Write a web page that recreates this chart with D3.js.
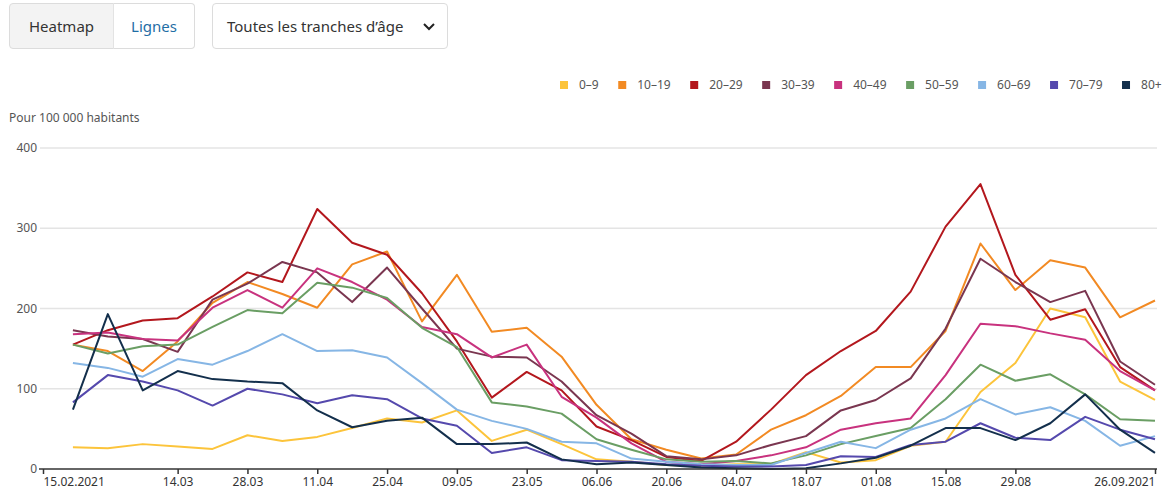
<!DOCTYPE html>
<html>
<head>
<meta charset="utf-8">
<script src="https://cdn.jsdelivr.net/npm/d3@7"></script>
<style>
  body { margin: 0; background: #fff; font-family: "Noto Sans", "Open Sans", sans-serif; }
  #wrap { position: relative; width: 1163px; height: 490px; overflow: hidden; }
  .seg { position: absolute; top: 3px; height: 46px; box-sizing: border-box; border: 1px solid #dcdcdc;
         font-size: 15px; line-height: 44px; text-align: center; }
  #chart { position: absolute; left: 0; top: 0; }
</style>
</head>
<body>
<div id="wrap">
  <div class="seg" style="left:9px;width:105px;background:#f3f3f3;color:#333;border-radius:4px 0 0 4px;">Heatmap</div>
  <div class="seg" style="left:113px;width:82px;background:#fff;color:#1f6ea5;border-left:1px solid #e3e3e3;border-radius:0 4px 4px 0;">Lignes</div>
  <div class="seg" style="left:212px;width:236px;background:#fff;color:#333;border-radius:4px;text-align:left;padding-left:14px;">Toutes les tranches d’âge
    <svg width="12" height="8" style="position:absolute;left:210px;top:19px;"><path d="M1,1 L6,6 L11,1" fill="none" stroke="#222" stroke-width="2"/></svg>
  </div>
  <svg id="chart" width="1163" height="490"></svg>
</div>
<script>
// semaines (dimanche)
var weeks = ["2021-02-21","2021-02-28","2021-03-07","2021-03-14","2021-03-21","2021-03-28","2021-04-04","2021-04-11",
  "2021-04-18","2021-04-25","2021-05-02","2021-05-09","2021-05-16","2021-05-23","2021-05-30","2021-06-06",
  "2021-06-13","2021-06-20","2021-06-27","2021-07-04","2021-07-11","2021-07-18","2021-07-25","2021-08-01",
  "2021-08-08","2021-08-15","2021-08-22","2021-08-29","2021-09-05","2021-09-12","2021-09-19","2021-09-26"];

var ageGroups = ["0–9","10–19","20–29","30–39","40–49","50–59","60–69","70–79","80+"];
var ageColors = ["#fcc43b","#f28a23","#b3171d","#7a3650","#c8327e","#6a9e64","#86b6e5","#5549ad","#132f4c"];

var v0_9   = [27,26,31,28,25,42,35,40,51,63,58,73,35,49,31,12,9,5,4,6,6,21,8,11,29,34,96,132,200,189,109,86];
var v10_19 = [155,147,122,159,207,233,218,201,255,271,184,242,171,176,140,80,37,24,13,18,49,67,91,127,127,172,281,223,260,251,189,210];
var v20_29 = [155,173,185,188,215,245,233,324,282,267,219,159,89,121,98,53,36,15,10,34,74,117,147,172,221,302,355,242,186,199,127,98];
var v30_39 = [173,165,162,146,211,231,258,245,208,251,200,150,140,139,109,67,44,16,12,17,30,41,73,86,113,175,262,233,208,222,134,105];
var v40_49 = [168,170,162,160,201,223,201,250,233,211,177,168,139,155,90,64,32,9,6,10,17,27,49,57,63,117,181,178,169,161,122,98];
var v50_59 = [155,144,153,155,177,198,194,232,226,213,176,152,83,78,69,37,24,12,9,10,7,17,31,41,51,87,130,110,118,93,62,60];
var v60_69 = [132,126,115,137,130,147,168,147,148,139,107,74,60,50,34,32,13,9,6,5,5,20,34,26,49,63,87,68,77,60,29,41];
var v70_79 = [83,117,109,98,79,100,93,82,92,87,63,54,20,27,11,10,9,6,4,3,3,5,16,15,30,34,57,39,36,65,49,37];
var v80    = [74,193,98,122,112,109,107,73,52,60,64,31,31,33,12,6,8,5,2,1,0,1,7,14,29,51,51,36,57,93,49,20];

var seriesValues = [v0_9, v10_19, v20_29, v30_39, v40_49, v50_59, v60_69, v70_79, v80];

var xTicks = ["2021-02-15","2021-03-14","2021-03-28","2021-04-11","2021-04-25","2021-05-09","2021-05-23","2021-06-06",
  "2021-06-20","2021-07-04","2021-07-18","2021-08-01","2021-08-15","2021-08-29","2021-09-26"];
var yTicks = [0, 100, 200, 300, 400];

function drawChart(){
  var parse = d3.timeParse("%Y-%m-%d");
  var dates = weeks.map(parse);

  var svg = d3.select("#chart");
  var margin = {left: 43, right: 1155, top: 148, bottom: 469};

  var x = d3.scaleTime()
    .domain([parse("2021-02-15"), parse("2021-09-26")])
    .range([margin.left, margin.right]);
  var y = d3.scaleLinear().domain([0, 400]).range([margin.bottom, margin.top]);

  // legende
  var legend = svg.append("g").attr("font-size", 12).attr("fill", "#555");
  var lx = 560;
  ageGroups.forEach(function(name, i){
    var g = legend.append("g").attr("transform", "translate(" + lx + ",85)");
    g.append("rect").attr("x", 0).attr("y", -4).attr("width", 8).attr("height", 8).attr("fill", ageColors[i]);
    var t = g.append("text").attr("x", 19).attr("dy", "0.35em").text(name);
    lx += 19 + t.node().getComputedTextLength() + 19.5;
  });

  svg.append("text").attr("x", 9).attr("y", 122).attr("font-size", 12).attr("fill", "#555")
    .text("Pour 100 000 habitants");

  // grille
  svg.append("g").selectAll("line").data(yTicks.slice(1)).enter().append("line")
    .attr("x1", margin.left - 3).attr("x2", margin.right + 2)
    .attr("y1", function(d){ return y(d); }).attr("y2", function(d){ return y(d); })
    .attr("stroke", "#e4e4e4").attr("stroke-width", 1.5);

  svg.append("g").selectAll("text").data(yTicks).enter().append("text")
    .attr("x", 37).attr("y", function(d){ return y(d); }).attr("dy", "0.35em")
    .attr("text-anchor", "end").attr("font-size", 12).attr("fill", "#555")
    .text(function(d){ return d; });

  // lignes
  var line = d3.line()
    .x(function(d, i){ return x(dates[i]); })
    .y(function(d){ return y(d); });

  svg.append("g").selectAll("path").data(seriesValues).enter().append("path")
    .attr("d", line)
    .attr("fill", "none")
    .attr("stroke", function(d, i){ return ageColors[i]; })
    .attr("stroke-width", 2)
    .attr("stroke-linejoin", "round");

  // axe x
  var fmt = d3.timeFormat("%d.%m");
  var xAxis = d3.axisBottom(x)
    .tickValues(xTicks.map(parse))
    .tickSize(5)
    .tickPadding(3)
    .tickFormat(function(d, i){ return (i == 0 || i == xTicks.length - 1) ? d3.timeFormat("%d.%m.%Y")(d) : fmt(d); });

  var ax = svg.append("g").attr("transform", "translate(0," + margin.bottom + ")").call(xAxis);
  ax.select(".domain").attr("stroke", "#333").attr("stroke-width", 1.5).attr("d", "M" + (margin.left - 4) + ",0H" + (margin.right + 2));
  ax.selectAll(".tick line").attr("stroke", "#333").attr("stroke-width", 1.5);
  ax.selectAll(".tick text").attr("font-size", 12).attr("fill", "#333").attr("font-family", "Noto Sans, sans-serif")
    .attr("text-anchor", function(d, i){ return i == 0 ? "start" : (i == xTicks.length - 1 ? "end" : "middle"); });
}

drawChart();
</script>
</body>
</html>
